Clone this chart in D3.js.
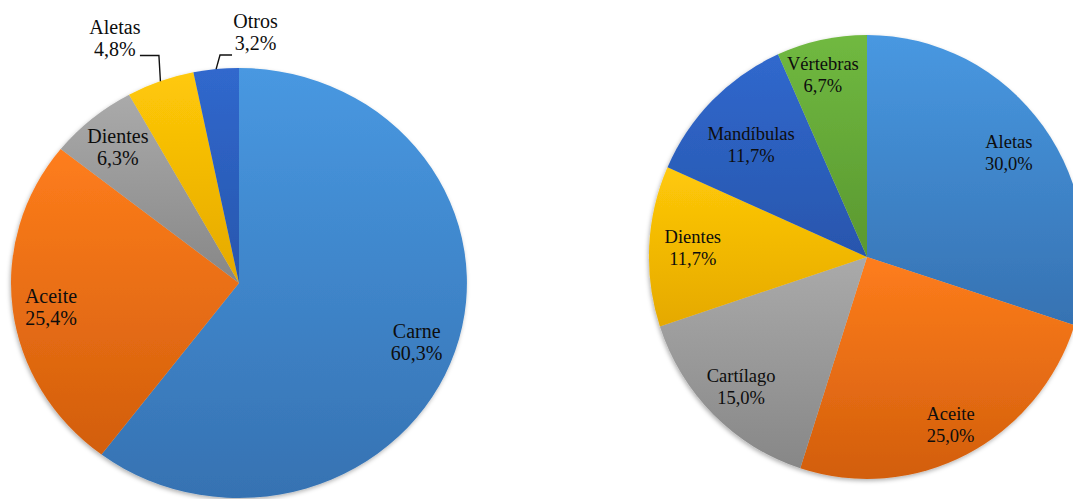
<!DOCTYPE html>
<html><head><meta charset="utf-8">
<script src="https://cdn.jsdelivr.net/npm/d3@7"></script>
<style>
html,body{margin:0;padding:0;background:#fff;}
svg{display:block;}
</style></head>
<body>
<svg id="chart" width="1073" height="499"></svg>
<script>
// ---- data ----
const leftCategories = ["Carne", "Aceite", "Dientes", "Aletas", "Otros"];
const leftValues = [60.3, 25.4, 6.3, 4.8, 3.2];
const leftLabels = ["60,3%", "25,4%", "6,3%", "4,8%", "3,2%"];

const rightCategories = ["Aletas", "Aceite", "Cartílago", "Dientes", "Mandíbulas", "Vértebras"];
const rightValues = [30.0, 25.0, 15.0, 11.7, 11.7, 6.7];
const rightLabels = ["30,0%", "25,0%", "15,0%", "11,7%", "11,7%", "6,7%"];

// ---- styles ----
const palette = {
  blue:   ["#4898e1", "#3672b2"],
  orange: ["#fe7d1c", "#d25e0c"],
  gray:   ["#aaaaaa", "#878787"],
  yellow: ["#ffc908", "#e5a900"],
  navy:   ["#3068cd", "#2856ad"],
  green:  ["#70b940", "#5a9830"]
};
const leftColors = ["blue", "orange", "gray", "yellow", "navy"];
const rightColors = ["blue", "orange", "gray", "yellow", "navy", "green"];

const leftPie = {cx: 239, cy: 283, rx: 228, ry: 215, font: 20};
const rightPie = {cx: 867, cy: 257, rx: 218, ry: 222, font: 18.5};

// label placement factors (fraction of radius along mid angle), inside labels
const leftLabelFactors = [[0.822, 0.873], [0.831, 0.91], [0.824, 0.824], null, null];
const rightLabelFactors = [[0.805, 0.80], [0.84, 0.85], [0.82, 0.82], [0.80, 0.886], [0.75, 0.72], [0.97, 0.84]];
// outside labels with leader lines: elbow offset from edge, horizontal run, text offset from end of run
const leftLeaders = [null, null, null,
  {elbow: [-1.5, -25.6], run: -19, text: [-25, -22]},
  {elbow: [3.9, -14.1], run: 12, text: [23.5, -27]}];

const fontFamily = "'Liberation Serif', 'Times New Roman', serif";
const lineGap = 22;

const svg = d3.select("#chart");
const defs = svg.append("defs");
Object.entries(palette).forEach(([k, c]) => {
  const g = defs.append("linearGradient").attr("id", "grad-" + k)
    .attr("x1", 0).attr("y1", 0).attr("x2", 0).attr("y2", 1);
  g.append("stop").attr("offset", "0%").attr("stop-color", c[0]);
  g.append("stop").attr("offset", "100%").attr("stop-color", c[1]);
});
const f = defs.append("filter").attr("id", "shadow")
  .attr("x", "-10%").attr("y", "-10%").attr("width", "120%").attr("height", "120%");
f.append("feDropShadow").attr("dx", -1).attr("dy", 2).attr("stdDeviation", 2)
  .attr("flood-color", "#000").attr("flood-opacity", 0.3);

const pie = d3.pie().sort(null).value(d => d);
const arc = d3.arc().innerRadius(0).outerRadius(1);

function drawPie(P, values, cats, labels, colors, factors, leaders) {
  const arcs = pie(values);
  const g = svg.append("g");
  const slices = g.append("g").attr("filter", "url(#shadow)")
    .append("g")
    .attr("transform", `translate(${P.cx},${P.cy}) scale(${P.rx},${P.ry})`);
  slices.selectAll("path").data(arcs).join("path")
    .attr("d", arc)
    .attr("fill", (d, i) => `url(#grad-${colors[i]})`);

  arcs.forEach((d, i) => {
    const a = (d.startAngle + d.endAngle) / 2;
    const sx = Math.sin(a), sy = -Math.cos(a);
    let tx, ty;
    if (factors[i]) {
      tx = P.cx + factors[i][0] * P.rx * sx;
      ty = P.cy + factors[i][1] * P.ry * sy;
    } else {
      const L = leaders[i];
      const ex = P.cx + P.rx * sx, ey = P.cy + P.ry * sy;
      const bx = ex + L.elbow[0], by = ey + L.elbow[1];
      const hx = bx + L.run;
      g.append("path")
        .attr("d", `M${ex},${ey}L${bx},${by}L${hx},${by}`)
        .attr("fill", "none").attr("stroke", "#111").attr("stroke-width", 1.4);
      tx = hx + L.text[0];
      ty = by + L.text[1] + 4.5;
    }
    const t = g.append("text").attr("text-anchor", "middle")
      .attr("font-family", fontFamily).attr("font-size", P.font).attr("fill", "#0d0d0d");
    t.append("tspan").attr("x", tx).attr("y", ty - 4.5).text(cats[i]);
    t.append("tspan").attr("x", tx).attr("y", ty - 4.5 + lineGap).text(labels[i]);
  });
}

drawPie(leftPie, leftValues, leftCategories, leftLabels, leftColors, leftLabelFactors, leftLeaders);
drawPie(rightPie, rightValues, rightCategories, rightLabels, rightColors, rightLabelFactors, []);
</script>
</body></html>
